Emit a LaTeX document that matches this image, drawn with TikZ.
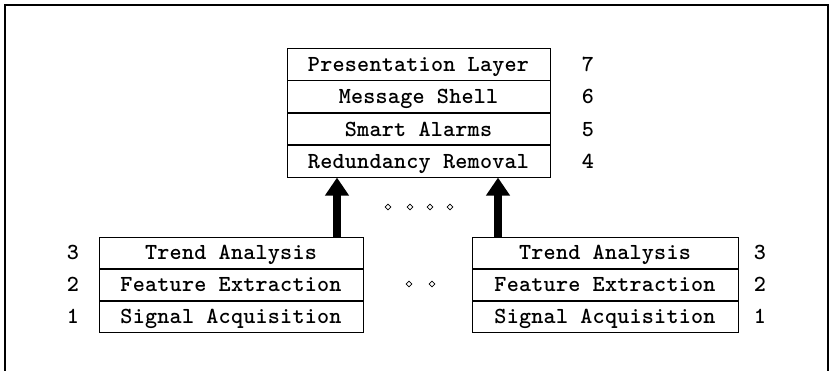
\documentclass[tikz,border=0pt]{standalone}
\usepackage{fontspec}
\usetikzlibrary{arrows.meta,shapes.geometric}
\newfontfamily\lbl{lmmonolt10-bold.otf}[LetterSpace=1]
\begin{document}
\begin{tikzpicture}[x=1pt,y=-1pt,
  txt/.style={inner sep=0pt,text height=22.5pt,text depth=8.5pt,font=\lbl\fontsize{23}{25}\selectfont},
  layer/.style={txt,draw,line width=0.9pt,minimum height=31.5pt},
  lowlayer/.style={layer,minimum height=31pt},
  num/.style={txt},
  dot/.style={diamond,draw,line width=0.8pt,inner sep=0pt,minimum size=6pt},
  bigarrow/.style={line width=8pt,-{Triangle[width=23pt,length=18pt]}}]
\useasboundingbox (0,0) rectangle (833,370);
% frame
\draw[line width=1.6pt] (5,371) -- (5,5) -- (828,5) -- (828,371);
% top stack
\node[layer,minimum width=263pt,anchor=north] (p7) at (418.5,48) {Presentation Layer};
\node[layer,minimum width=263pt,anchor=north] (p6) at (p7.south) {Message Shell};
\node[layer,minimum width=263pt,anchor=north] (p5) at (p6.south) {Smart Alarms};
\node[layer,minimum width=263pt,anchor=north] (p4) at (p5.south) {Redundancy Removal};
\node[num] (n7) at (588,0 |- p7) {7};
\node[num] (n6) at (588,0 |- p6) {6};
\node[num] (n5) at (588,0 |- p5) {5};
\node[num] (n4) at (588,0 |- p4) {4};
% left stack
\node[lowlayer,minimum width=264pt,anchor=north] (l3) at (231,237) {Trend Analysis};
\node[lowlayer,minimum width=264pt,anchor=north] (l2) at (l3.south) {Feature Extraction};
\node[lowlayer,minimum width=264pt,anchor=north] (l1) at (l2.south) {Signal Acquisition};
\node[num] (m3) at (73,0 |- l3) {3};
\node[num] (m2) at (73,0 |- l2) {2};
\node[num] (m1) at (73,0 |- l1) {1};
% right stack
\node[lowlayer,minimum width=266pt,anchor=north] (r3) at (605,237) {Trend Analysis};
\node[lowlayer,minimum width=266pt,anchor=north] (r2) at (r3.south) {Feature Extraction};
\node[lowlayer,minimum width=266pt,anchor=north] (r1) at (r2.south) {Signal Acquisition};
\node[num] (k3) at (760,0 |- r3) {3};
\node[num] (k2) at (760,0 |- r2) {2};
\node[num] (k1) at (760,0 |- r1) {1};
% arrows
\coordinate (ax) at (337,0);
\coordinate (bx) at (498,0);
\draw[bigarrow] (l3.north -| ax) -- (p4.south -| ax);
\draw[bigarrow] (r3.north -| bx) -- (p4.south -| bx);
% dots
\node[dot] (d1) at (388,207) {};
\node[dot] (d2) at (410,207) {};
\node[dot] (d3) at (430,207) {};
\node[dot] (d4) at (450,207) {};
\node[dot] (d5) at (409,284) {};
\node[dot] (d6) at (432,284) {};
\end{tikzpicture}
\end{document}
